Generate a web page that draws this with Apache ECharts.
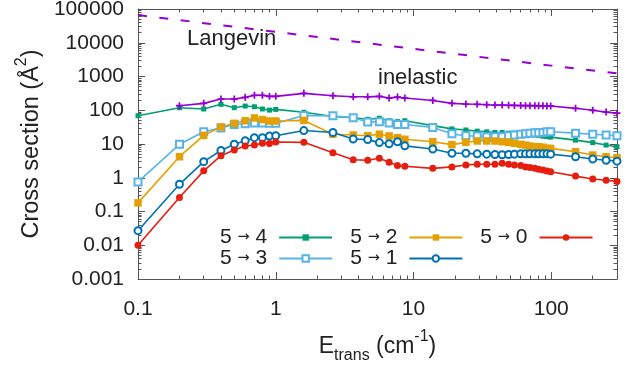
<!DOCTYPE html>
<html><head><meta charset="utf-8">
<script src="https://cdn.jsdelivr.net/npm/echarts@6/dist/echarts.min.js"></script>
<style>html,body{margin:0;padding:0;background:#fff}#c{width:637px;height:365px}</style>
</head><body><div id="c"></div>
<script>
// ---- data ----
const energies = [0.1,0.2,0.3,0.4,0.5,0.6,0.7,0.8,0.9,1.0,1.6,2.6,3.65,4.65,5.65,6.65,7.65,8.65,13.8,19,24,29,34,39,44,49,54,60,65,70,76,81,87,93,99,150,200,250,300];
const inelastic = [null,136,160,215,215,241,277,277,258,258,317,269,251,251,258,230,245,230,195,160,153,150,146,143,142,140,139,138,137,136,136,135,135,134,134,114,100,88,82];
const s54 = [69,119,109,150,119,133,127,109,101,106,87,65,60,54,58,49,46,49,35,28,26,24,23,22,22,21,21,20,20,19,18.5,18,17,16.5,16,13,11,9.3,8.3];
const s53 = [0.75,9.8,23,30,38,40,42,42,41,41,70,69,60,45,46,42,38,38,31,20,17.6,17.3,16.4,16.4,16.4,17.6,18.5,19.5,20,21,21.7,21.7,22,23,23,21,19.5,18.5,17.6];
const s52 = [0.18,4.2,18,32,41,49,59,53,48,48,50,19.5,18.5,17.5,19.5,17.3,15.4,13.8,11.7,9.6,11.2,12.3,12.3,12.3,11.7,11.2,10.5,9.8,9.3,8.7,8.3,8.3,8.0,7.4,7.4,5.9,4.7,4.2,3.9];
const s51 = [0.027,0.64,3.0,6.4,9.8,12.5,15.4,15.4,17.3,17.6,25,22,14,13.5,11,10.2,11.7,8.8,7.1,5.3,5.3,5.1,5.0,4.9,4.8,4.9,5.0,5.1,5.1,5.1,5.1,5.1,5.1,5.1,5.0,4.2,3.6,3.3,3.1];
const s50 = [0.01,0.26,1.6,4.5,6.6,8.7,9.3,10.5,10.3,11.5,11.2,5.5,3.4,3.3,3.8,2.9,2.3,2.2,1.9,2.1,2.4,2.5,2.5,2.5,2.7,2.5,2.4,2.3,2.1,2.0,1.9,1.8,1.7,1.58,1.5,1.12,0.92,0.84,0.78];
const langevinE = [0.1,1,10,100,300];
const langevin = [66000,21000,6600,2100,1240];
const xTickLabels = ['0.1','1','10','100'];
const yTickLabels = ['0.001','0.01','0.1','1','10','100','1000','10000','100000'];
const legendNames = ['5 → 4','5 → 3','5 → 2','5 → 1','5 → 0'];

// ---- chart ----
const FONT = 'Liberation Sans';
const TXT = '#222';
const FRAME = '#555';
function pairs(xs, ys){ const out=[]; for(let i=0;i<xs.length;i++){ if(ys[i]!=null) out.push([xs[i], ys[i]]);} return out; }
function decLabel(list, offset){ return function(v){ const l=Math.log10(v); const r=Math.round(l); if(Math.abs(l-r)>1e-6) return ''; const s=list[r+offset]; return s==null?'':s; }; }
function minorTicks(lo, hi){ const t=[]; for(let d=Math.floor(lo); d<=Math.ceil(hi); d++){ for(let k=2;k<=9;k++){ const v=d+Math.log10(k); if(v>lo && v<hi) t.push(v);} } return t; }
const xLo=Math.log10(0.1), xHi=Math.log10(300), yLo=-3, yHi=5;

const plus='path://M3,0H5V3H8V5H5V8H3V5H0V3H3Z';
function mk(name, data, color, symbol, size, empty){
  return {name, type:'line', xAxisIndex:0, yAxisIndex:0, data, symbol, symbolSize:size,
    lineStyle:{color, width:1.6}, itemStyle:{color:color, borderColor:color, borderWidth: empty?1.4:0},
    emphasis:{disabled:true}};
}
const logX = (pos, show)=>({type:'log', min:0.1, max:300, position:pos, logBase:10,
  axisLine:{show:true,onZero:false,lineStyle:{color:FRAME,width:1}},
  axisTick:{show:true,inside:true,length:7,lineStyle:{color:FRAME}},
  axisLabel:{show:show, formatter:decLabel(xTickLabels,1), color:TXT, fontFamily:FONT, fontSize:21, margin:20},
  splitLine:{show:false}});
const logY = (pos, show)=>({type:'log', min:0.001, max:100000, position:pos, logBase:10,
  axisLine:{show:true,onZero:false,lineStyle:{color:FRAME,width:1}},
  axisTick:{show:true,inside:true,length:7,lineStyle:{color:FRAME}},
  axisLabel:{show:show, formatter:decLabel(yTickLabels,3), color:TXT, fontFamily:FONT, fontSize:21, margin:14},
  splitLine:{show:false}});
const minorAx = (pos, lo, hi)=>({type:'value', min:lo, max:hi, position:pos,
  axisLine:{show:false,onZero:false}, axisLabel:{show:false}, splitLine:{show:false},
  axisTick:{show:true, inside:true, length:3.5, customValues:minorTicks(lo,hi), lineStyle:{color:FRAME, width:1}}});

const xa0 = logX('bottom', true);
xa0.name = '{n|E}{sub|trans}{n| (cm}{sup|-1}{n|)}';
xa0.nameLocation='middle'; xa0.nameGap=49;
xa0.nameTextStyle={rich:{
  n:{fontFamily:FONT,fontSize:23,color:TXT,lineHeight:30,verticalAlign:'bottom'},
  sub:{fontFamily:FONT,fontSize:16,color:TXT,lineHeight:30,verticalAlign:'bottom',padding:[0,0,-6,0]},
  sup:{fontFamily:FONT,fontSize:16,color:TXT,lineHeight:30,verticalAlign:'top',padding:[1,0,0,0]}}};
const ya0 = logY('left', true);
ya0.name = '{n|Cross section (Å}{sup|2}{n|)}';
ya0.nameLocation='middle'; ya0.nameGap=92;
ya0.nameTextStyle={rich:{
  n:{fontFamily:FONT,fontSize:23.5,color:TXT,lineHeight:30,verticalAlign:'bottom'},
  sup:{fontFamily:FONT,fontSize:16,color:TXT,lineHeight:30,verticalAlign:'top',padding:[1,0,0,0]}}};

const legendText = {fontFamily:FONT,fontSize:21,color:TXT,padding:[0,7,0,0],
  rich:{a:{fontFamily:FONT,fontSize:21,color:TXT}, r:{fontFamily:'DejaVu Sans',fontSize:14.5,color:TXT}}};
const legendFmt = function(name){ const p=name.split(' → '); return '{a|'+p[0]+' }{r|→}{a| '+p[1]+'}'; };
const option = {
  animation:false,
  backgroundColor:'#fff',
  grid:{left:138, right:20, top:9, bottom:86, containLabel:false, outerBoundsMode:'none'},
  xAxis:[xa0, logX('top',false), minorAx('bottom',xLo,xHi), minorAx('top',xLo,xHi)],
  yAxis:[ya0, logY('right',false), minorAx('left',yLo,yHi), minorAx('right',yLo,yHi)],
  legend:[
    {data:[legendNames[0],legendNames[2],legendNames[4]], left:220, top:227, orient:'horizontal', align:'right',
     itemWidth:53, itemHeight:8, itemGap:17, padding:0, selectedMode:false, formatter:legendFmt, textStyle:legendText},
    {data:[legendNames[1],legendNames[3]], left:220, top:248, orient:'horizontal', align:'right',
     itemWidth:53, itemHeight:8, itemGap:17, padding:0, selectedMode:false, formatter:legendFmt, textStyle:legendText}
  ],
  graphic:[
    {type:'text', left:187, top:28, style:{text:'Langevin', font:'22px "Liberation Sans"', fill:TXT}},
    {type:'text', left:378, top:67, style:{text:'inelastic', font:'22px "Liberation Sans"', fill:TXT}}
  ],
  series:[
    mk(legendNames[0], pairs(energies,s54), '#009e73', 'rect', 5, false),
    mk(legendNames[1], pairs(energies,s53), '#56b4e9', 'emptyRect', 7, true),
    mk(legendNames[2], pairs(energies,s52), '#e69f00', 'rect', 7.5, false),
    mk(legendNames[3], pairs(energies,s51), '#0072b2', 'emptyCircle', 7, true),
    mk(legendNames[4], pairs(energies,s50), '#e51e10', 'circle', 7, false),
    mk('inelastic', pairs(energies,inelastic), '#9400d3', plus, 7, false),
    {name:'Langevin', type:'line', data:pairs(langevinE,langevin), symbol:'none',
     lineStyle:{color:'#9400d3', width:2, type:[9,12.5]}, emphasis:{disabled:true}}
  ]
};
const chart = echarts.init(document.getElementById('c'), null, {renderer:'canvas'});
chart.setOption(option);
</script>
</body></html>
